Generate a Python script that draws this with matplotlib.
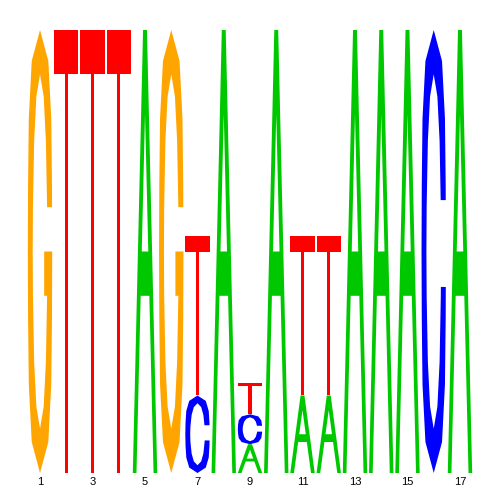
import matplotlib
matplotlib.use("Agg")
import matplotlib.pyplot as plt
import numpy as np
from matplotlib.path import Path
from matplotlib.patches import PathPatch

positions = list(range(1, 18))
# information content (bits) per base at each position
a_bits = [0, 0, 0, 0, 2.0, 0, 0, 2.0, 0.13, 2.0, 0.35, 0.35, 2.0, 2.0, 2.0, 0, 2.0]
c_bits = [0, 0, 0, 0, 0, 0, 0.35, 0, 0.135, 0, 0, 0, 0, 0, 0, 2.0, 0]
g_bits = [2.0, 0, 0, 0, 0, 2.0, 0, 0, 0, 0, 0, 0, 0, 0, 0, 0, 0]
t_bits = [0, 2.0, 2.0, 2.0, 0, 0, 0.72, 0, 0.14, 0, 0.72, 0.72, 0, 0, 0, 0, 0]
tick_labels = [str(i) for i in range(1, 18, 2)]

colors = {"A": "#00c800", "C": "#0000ff", "G": "#ffa500", "T": "#ff0000"}

# letter outlines in a unit box (x right, y up)
out_y = np.array([0.0, 0.07, 0.2, 0.35, 0.5, 0.65, 0.8, 0.93, 1.0])
out_hw = np.array([0, 0.34, 0.46, 0.49, 0.5, 0.49, 0.46, 0.34, 0])
in_y = np.array([0.1, 0.15, 0.25, 0.4, 0.5, 0.6, 0.75, 0.85, 0.9])
in_hw = np.array([0, 0.15, 0.24, 0.29, 0.3, 0.29, 0.24, 0.15, 0])


def hw_o(y):
    return np.interp(y, out_y, out_hw)


def hw_i(y):
    return np.interp(y, in_y, in_hw)


def ring(hi, lo, tab=False):
    pts = []
    # outer, right side going up from hi, over the top, down the left
    for y in [hi] + [v for v in out_y if v > hi]:
        pts.append((0.5 + hw_o(y), y))
    for y in out_y[::-1]:
        pts.append((0.5 - hw_o(y), y))
    # outer right side going up to lo
    for y in [v for v in out_y if 0 < v < lo] + [lo]:
        pts.append((0.5 + hw_o(y), y))
    if tab:
        pts += [(0.67, lo), (0.67, 0.4)]
        lo = 0.4
    # inner, going the other way
    for y in [lo] + [v for v in in_y[::-1] if v < lo]:
        pts.append((0.5 + hw_i(y), y))
    for y in in_y:
        pts.append((0.5 - hw_i(y), y))
    for y in [v for v in in_y[::-1] if v > hi] + [hi]:
        pts.append((0.5 + hw_i(y), y))
    return [pts]


shapes = {
    "A": [[(0, 0), (0.42, 1), (0.58, 1), (1, 0), (0.85, 0), (0.677, 0.4),
           (0.323, 0.4), (0.15, 0)],
          [(0.634, 0.5), (0.5, 0.81), (0.366, 0.5)]],
    "T": [[(0, 1), (1, 1), (1, 0.9), (0.57, 0.9), (0.57, 0), (0.43, 0),
           (0.43, 0.9), (0, 0.9)]],
    "C": ring(0.616, 0.42),
    "G": ring(0.6, 0.5, tab=True),
}


def draw_letter(ax, letter, xc, y0, w, h):
    verts, codes = [], []
    for poly in shapes[letter]:
        for k, (px, py) in enumerate(poly):
            verts.append((xc - w / 2 + w * px, y0 + h * py))
            codes.append(Path.MOVETO if k == 0 else Path.LINETO)
        verts.append(verts[-len(poly)])
        codes.append(Path.CLOSEPOLY)
    ax.add_patch(PathPatch(Path(verts, codes), fc=colors[letter], ec="none"))


fig = plt.figure(figsize=(5, 5), dpi=100)
ax = fig.add_axes([26.9 / 500, 27 / 500, 446.2 / 500, 443 / 500])

for i, p in enumerate(positions):
    col = [("A", a_bits[i]), ("C", c_bits[i]), ("G", g_bits[i]), ("T", t_bits[i])]
    col = sorted([c for c in col if c[1] > 0], key=lambda c: c[1])
    y = 0
    for letter, h in col:
        draw_letter(ax, letter, p, y, 0.93, h)
        y += h

ax.set_xlim(0.5, 17.5)
ax.set_ylim(0, 2)
for s in ax.spines.values():
    s.set_visible(False)
ax.set_yticks([])
ax.set_xticks(range(1, 18, 2))
ax.set_xticklabels(tick_labels, fontsize=8, family="Liberation Sans")
ax.tick_params(axis="x", length=0, pad=3)

fig.savefig("out.png", dpi=100)
